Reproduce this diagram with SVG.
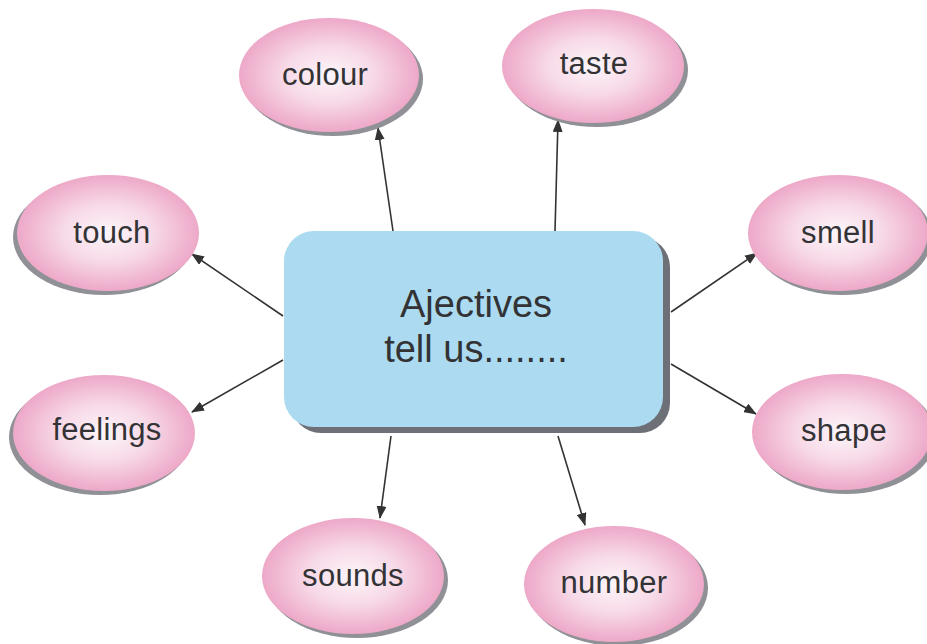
<svg xmlns="http://www.w3.org/2000/svg" width="927" height="644" viewBox="0 0 927 644">
<defs>
  <radialGradient id="pink" cx="50%" cy="50%" r="50%">
    <stop offset="0" stop-color="#fdf6fa"/>
    <stop offset="0.5" stop-color="#f7d9e7"/>
    <stop offset="1" stop-color="#eda8c8"/>
  </radialGradient>
  <marker id="arr" viewBox="0 0 13 10" refX="12" refY="5" markerWidth="13" markerHeight="10" markerUnits="userSpaceOnUse" orient="auto">
    <path d="M0,0 L13,5 L0,10 Z" fill="#333333"/>
  </marker>
</defs>
<style>
  .sh { fill: #8f9197; }
  .el { fill: url(#pink); }
  .lbl { font-family: "Liberation Sans", Arial, sans-serif; font-size: 31px; fill: #333336; text-anchor: middle; letter-spacing: 0.3px; }
  .ctr { font-family: "Liberation Sans", Arial, sans-serif; font-size: 38px; fill: #333336; text-anchor: middle; }
  .cn { stroke: #333333; stroke-width: 1.6; fill: none; marker-end: url(#arr); }
</style>
<rect width="927" height="644" fill="#ffffff"/>

<g id="connectors">
  <line class="cn" x1="393" y1="231" x2="378" y2="128"/>
  <line class="cn" x1="555" y1="231" x2="558" y2="120"/>
  <line class="cn" x1="283" y1="316" x2="192" y2="254"/>
  <line class="cn" x1="671" y1="312" x2="757" y2="253"/>
  <line class="cn" x1="283" y1="360" x2="192" y2="412"/>
  <line class="cn" x1="671" y1="364" x2="756" y2="414"/>
  <line class="cn" x1="391" y1="436" x2="380" y2="518"/>
  <line class="cn" x1="558" y1="436" x2="585" y2="525"/>
</g>

<g id="center">
  <rect x="291" y="237" width="379" height="196" rx="30" fill="#6e7078"/>
  <rect x="284" y="231" width="379" height="196" rx="30" fill="#acdbf1"/>
  <text class="ctr" x="476" y="317">Ajectives</text>
  <text class="ctr" x="476" y="362">tell us........</text>
</g>

<g id="colour">
  <ellipse class="sh" cx="333" cy="79" rx="90" ry="57"/>
  <ellipse class="el" cx="329" cy="75" rx="90" ry="57"/>
  <text class="lbl" x="325" y="85">colour</text>
</g>
<g id="taste">
  <ellipse class="sh" cx="597" cy="70" rx="91" ry="57"/>
  <ellipse class="el" cx="593" cy="66" rx="91" ry="57"/>
  <text class="lbl" x="594" y="74">taste</text>
</g>
<g id="touch">
  <ellipse class="sh" cx="104" cy="237" rx="91" ry="58"/>
  <ellipse class="el" cx="108" cy="233" rx="91" ry="58"/>
  <text class="lbl" x="112" y="243">touch</text>
</g>
<g id="smell">
  <ellipse class="sh" cx="842" cy="237" rx="90" ry="58"/>
  <ellipse class="el" cx="838" cy="233" rx="90" ry="58"/>
  <text class="lbl" x="838" y="243">smell</text>
</g>
<g id="feelings">
  <ellipse class="sh" cx="100" cy="437" rx="91" ry="58"/>
  <ellipse class="el" cx="104" cy="433" rx="91" ry="58"/>
  <text class="lbl" x="107" y="440">feelings</text>
</g>
<g id="shape">
  <ellipse class="sh" cx="846" cy="436" rx="90" ry="58"/>
  <ellipse class="el" cx="842" cy="432" rx="90" ry="58"/>
  <text class="lbl" x="844" y="441">shape</text>
</g>
<g id="sounds">
  <ellipse class="sh" cx="357" cy="580" rx="91" ry="58"/>
  <ellipse class="el" cx="353" cy="576" rx="91" ry="58"/>
  <text class="lbl" x="353" y="586">sounds</text>
</g>
<g id="number">
  <ellipse class="sh" cx="618" cy="588" rx="90" ry="58"/>
  <ellipse class="el" cx="614" cy="584" rx="90" ry="58"/>
  <text class="lbl" x="614" y="593">number</text>
</g>
</svg>
